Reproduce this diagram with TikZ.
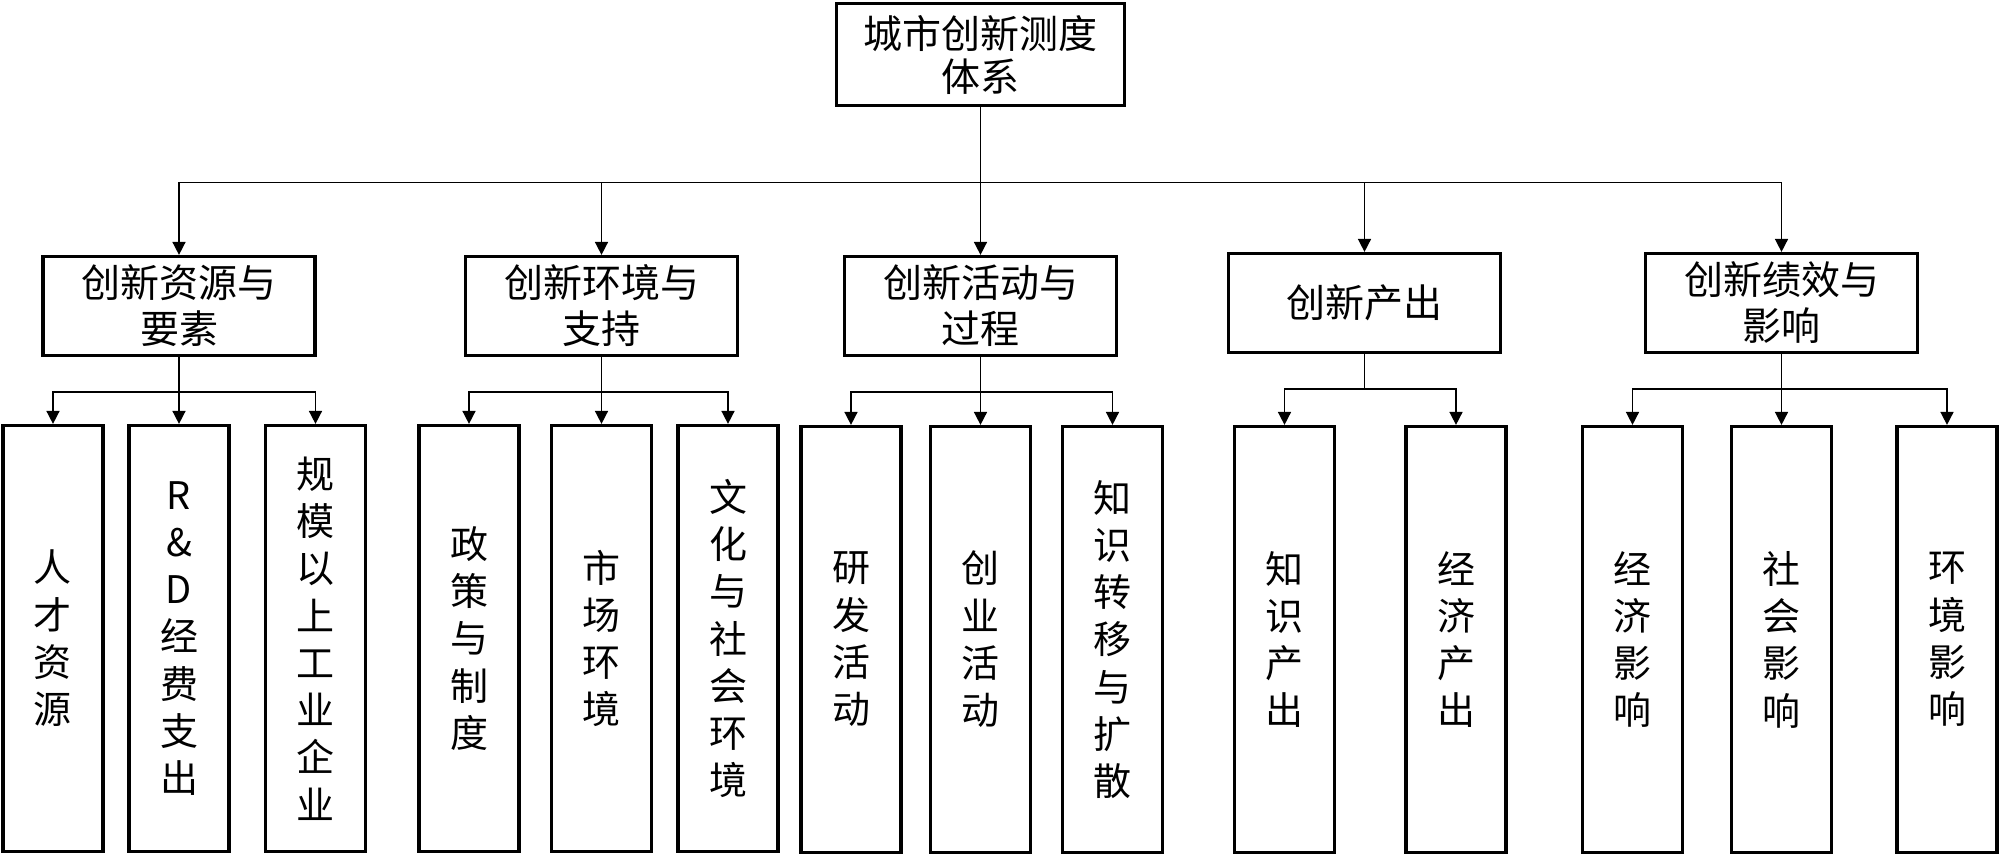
\documentclass[tikz,border=0pt]{standalone}
\usepackage{fontspec}
\setmainfont{Noto Sans CJK SC}
\usepackage{tikz}
\usetikzlibrary{arrows.meta,positioning}

\begin{document}
\begin{tikzpicture}[x=1pt,y=1pt,on grid,
        box/.style={draw,line width=3.2pt,inner sep=0pt,align=center},
        rootbox/.style={box,minimum width=288pt,minimum height=102pt,font=\fontsize{39}{43}\selectfont},
        catbox/.style={box,minimum width=272pt,minimum height=99pt,font=\fontsize{39}{46}\selectfont},
        leafbox/.style={box,minimum width=100pt,minimum height=426pt,font=\fontsize{38}{47.3}\selectfont},
        link/.style={line width=1.6pt},
        arr/.style={link,-{Triangle[length=13pt,width=13pt]}}]
        \useasboundingbox (0,0) rectangle (2000,-856);
        \node[rootbox] (root) at (980.5,-54.5) {城市创新测度\\体系};
        \node[catbox] (res) [below left=251.5pt and 801.5pt of root] {创新资源与\\要素};
        \node[catbox] (env) [below left=251.5pt and 379pt of root] {创新环境与\\支持};
        \node[catbox] (act) [below=251.5pt of root] {创新活动与\\过程};
        \node[catbox] (out) [below right=248.5pt and 384pt of root] {创新产出};
        \node[catbox] (imp) [below right=248.5pt and 801pt of root] {创新绩效与\\影响};
        % leaves
        \node[leafbox] (tal) [below left=332.5pt and 126pt of res] {人\\才\\资\\源};
        \node[leafbox] (rd) [below=332.5pt of res] {R\\\&\\D\\经\\费\\支\\出};
        \node[leafbox] (ent) [below right=332.5pt and 136.5pt of res] {规\\模\\以\\上\\工\\业\\企\\业};
        \node[leafbox] (pol) [below left=332.5pt and 132.5pt of env] {政\\策\\与\\制\\度};
        \node[leafbox] (mkt) [below=332.5pt of env] {市\\场\\环\\境};
        \node[leafbox] (cul) [below right=332.5pt and 126.5pt of env] {文\\化\\与\\社\\会\\环\\境};
        \node[leafbox] (rnd) [below left=333.5pt and 129.5pt of act] {研\\发\\活\\动};
        \node[leafbox] (biz) [below=333.5pt of act] {创\\业\\活\\动};
        \node[leafbox] (ktd) [below right=333.5pt and 132pt of act] {知\\识\\转\\移\\与\\扩\\散};
        \node[leafbox] (kno) [below left=336.5pt and 80pt of out] {知\\识\\产\\出};
        \node[leafbox] (eco) [below right=336.5pt and 91.5pt of out] {经\\济\\产\\出};
        \node[leafbox] (ecoi) [below left=336.5pt and 149pt of imp] {经\\济\\影\\响};
        \node[leafbox] (soc) [below=336.5pt of imp] {社\\会\\影\\响};
        \node[leafbox] (envi) [below right=336.5pt and 165.5pt of imp] {环\\境\\影\\响};
        % connectors
        \coordinate (bus) at ([yshift=-75.5pt]root.south);
        \draw[link] (root.south) -- (bus);
        \foreach \c in {res,env,act,out,imp}
            \draw[arr] (bus) -| (\c.north);
        \foreach \p/\kids in {res/{tal,rd,ent},env/{pol,mkt,cul},act/{rnd,biz,ktd},out/{kno,eco},imp/{ecoi,soc,envi}} {
            \coordinate (\p-bus) at ([yshift=-35pt]\p.south);
            \draw[link] (\p.south) -- (\p-bus);
            \foreach \k in \kids
                \draw[arr] (\p-bus) -| (\k.north);
        }
\end{tikzpicture}
\end{document}
